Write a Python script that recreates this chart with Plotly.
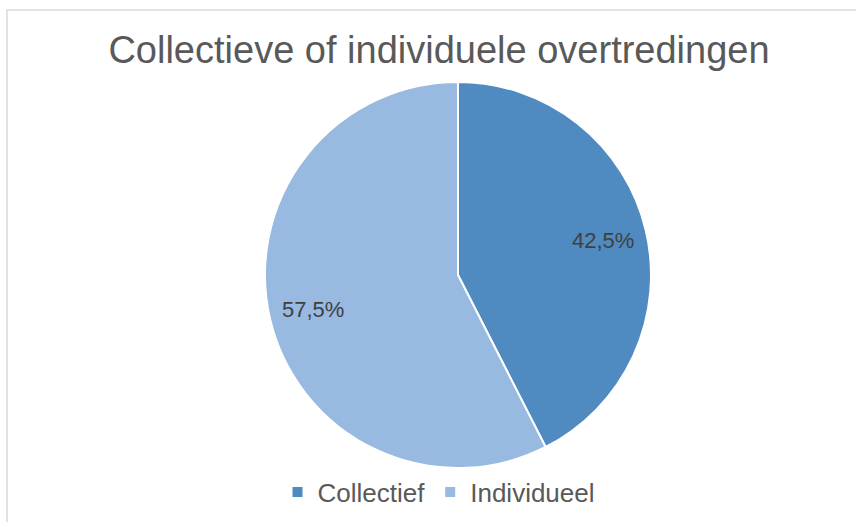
import math
import plotly.graph_objects as go

labels = ["Collectief", "Individueel"]
values = [42.5, 57.5]
text_labels = ["42,5%", "57,5%"]
colors = ["#4F8AC0", "#98B9E0"]
title_text = "Collectieve of individuele overtredingen"

W, H = 856, 522
cx, cy, R = 458, 275, 193
label_r = 0.77
font_family = "Liberation Sans, Arial, sans-serif"

fig = go.Figure(go.Pie(
    labels=labels,
    values=values,
    textinfo="none",
    marker=dict(colors=colors, line=dict(color="white", width=2)),
    sort=False,
    direction="clockwise",
    rotation=0,
    hoverinfo="label+percent",
    domain=dict(x=[(cx - R) / W, (cx + R) / W], y=[1 - (cy + R) / H, 1 - (cy - R) / H]),
))

# data labels placed along each slice's bisector
total = sum(values)
cum = 0.0
annotations = []
for v, t in zip(values, text_labels):
    mid = (cum + v / 2) / total * 2 * math.pi
    cum += v
    px = cx + label_r * R * math.sin(mid)
    py = cy - label_r * R * math.cos(mid)
    annotations.append(dict(text=t, x=px / W, y=1 - py / H, xref="paper", yref="paper",
                            showarrow=False, xanchor="center", yanchor="middle",
                            font=dict(family=font_family, size=22, color="#404040")))

fig.update_layout(
    width=W, height=H,
    margin=dict(l=0, r=0, t=0, b=0),
    paper_bgcolor="white",
    title=dict(text=title_text, x=439 / W, xanchor="center", y=1 - 50 / H, yanchor="middle",
               font=dict(family=font_family, size=38, color="#595959")),
    showlegend=True,
    legend=dict(orientation="h", x=439 / W, xanchor="center", y=1 - 492 / H, yanchor="middle",
                font=dict(family=font_family, size=26, color="#595959"),
                itemwidth=30, bgcolor="rgba(0,0,0,0)"),
    annotations=annotations,
    shapes=[dict(type="rect", xref="paper", yref="paper", x0=7 / W, x1=1.02, y0=-0.02, y1=1 - 10 / H,
                 line=dict(color="#D9D9D9", width=1.5), fillcolor="rgba(0,0,0,0)", layer="below")],
)

fig.write_html("out.html", config={"displayModeBar": False},
               post_script="document.body.style.margin='0';document.body.style.overflow='hidden';")
